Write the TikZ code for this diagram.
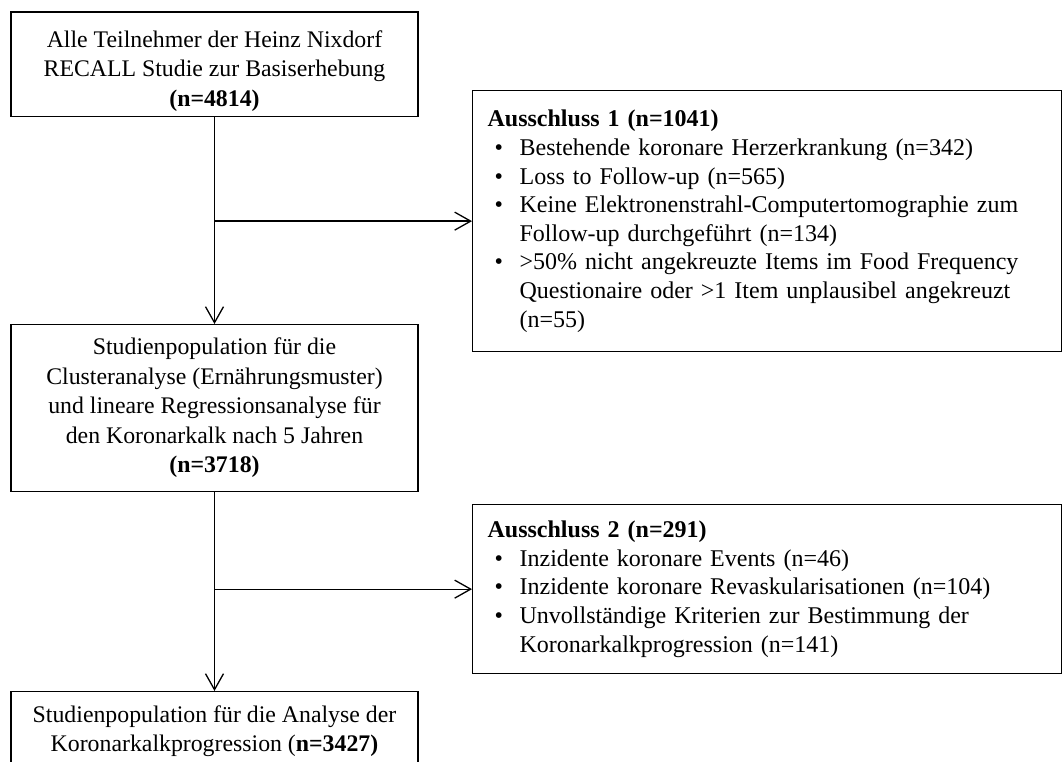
\documentclass[tikz,border=0pt]{standalone}
\usepackage{fontspec}
\setmainfont{Liberation Serif}
\usetikzlibrary{arrows.meta}
\newcommand{\bul}{\makebox[32pt][l]{\hspace{7pt}•}}
\newcommand{\cnt}{\hspace*{32pt}}
\begin{document}
\begin{tikzpicture}[x=1pt,y=-1pt,
  box/.style={draw, line width=1.3pt, minimum width=407pt, inner sep=0pt, align=center, font=\fontsize{23.8}{29.5}\selectfont, anchor=north},
  exbox/.style={draw, line width=1.3pt, minimum width=589pt, inner xsep=15pt, inner ysep=0pt, align=left, text width=559pt, anchor=north west, font=\fontsize{24}{28.6}\selectfont},
  conn/.style={line width=1.3pt, -{Straight Barb[length=16pt,width=18pt,line width=1.3pt]}}
]
\useasboundingbox (0,0) rectangle (1063,762);
\node[box, minimum height=104.5pt] (b1) at (214.5,11.5) {\rule{0pt}{29.5pt}Alle Teilnehmer der Heinz Nixdorf\\ RECALL Studie zur Basiserhebung\\ \textbf{(n=4814)}};
\node[box, minimum height=167pt] (b2) at (214.5,324) {Studienpopulation für die\\ Clusteranalyse (Ernährungsmuster)\\ und lineare Regressionsanalyse für\\ den Koronarkalk nach 5 Jahren\\ \textbf{(n=3718)}};
\node[box, minimum height=79pt] (b3) at (214.5,691) {Studienpopulation für die Analyse der\\ Koronarkalkprogression (\textbf{n=3427)}};
\node[exbox, minimum height=261pt] (e1) at (472,90) {\textbf{Ausschluss 1 (n=1041)}\\
\bul Bestehende koronare Herzerkrankung (n=342)\\
\bul Loss to Follow-up (n=565)\\
\bul Keine Elektronenstrahl-Computertomographie zum\\
\cnt Follow-up durchgeführt (n=134)\\
\bul >50\% nicht angekreuzte Items im Food Frequency\\
\cnt Questionaire oder >1 Item unplausibel angekreuzt\\
\cnt (n=55)};
\node[exbox, minimum height=169pt] (e2) at (472,504) {\textbf{Ausschluss 2 (n=291)}\\
\bul Inzidente koronare Events (n=46)\\
\bul Inzidente koronare Revaskularisationen (n=104)\\
\bul Unvollständige Kriterien zur Bestimmung der\\
\cnt Koronarkalkprogression (n=141)};
\draw[conn] (b1.south) -- (b2.north);
\draw[conn] (b2.south) -- (b3.north);
\draw[conn] (b1.south |- e1.west) -- (e1.west);
\draw[conn] (b2.south |- e2.west) -- (e2.west);
\end{tikzpicture}
\end{document}
